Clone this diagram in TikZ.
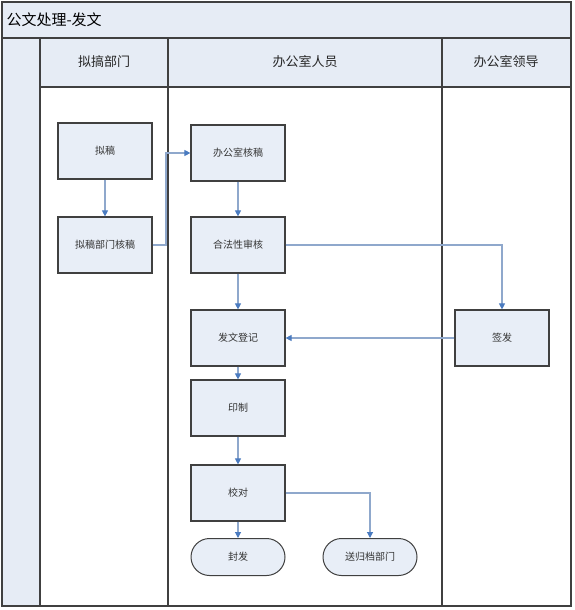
\documentclass[tikz,border=0pt]{standalone}
\usepackage{fontspec}
\setmainfont{Noto Sans CJK SC}
\usetikzlibrary{arrows.meta,shapes.misc}
\definecolor{boxfill}{HTML}{E8EEF7}
\definecolor{hdrfill}{HTML}{E6ECF5}
\definecolor{edgeblue}{HTML}{8FA8CC}
\definecolor{tipblue}{HTML}{4A7BC0}
\definecolor{bord}{HTML}{404040}
\tikzset{
  x=1pt,y=-1pt,
  proc/.style={draw=bord,line width=1.2pt,fill=boxfill,minimum width=94pt,minimum height=56pt,font=\fontsize{10}{12}\selectfont,text=black!80,inner sep=0pt},
  term/.style={draw=bord,line width=1pt,fill=boxfill,rounded rectangle,minimum width=94pt,minimum height=37pt,font=\fontsize{10}{12}\selectfont,text=black!80,inner sep=0pt},
  flow/.style={draw=edgeblue,line width=1.1pt,-{Triangle[length=6pt,width=6pt,color=tipblue]}},
  lane/.style={draw=bord,line width=1.3pt},
  hdr/.style={font=\fontsize{13}{15}\selectfont,text=black!85}
}
\begin{document}
\begin{tikzpicture}
\useasboundingbox (0,0) rectangle (574,610);
\fill[white] (0,0) rectangle (574,610);
% title and header
\fill[hdrfill] (2,2) rectangle (571,87);
\fill[hdrfill] (2,2) rectangle (40,606);
\draw[lane] (2,2) rectangle (571,606);
\draw[lane] (2,38) -- (571,38);
\draw[lane] (40,87) -- (571,87);
\draw[lane] (40,38) -- (40,606);
\draw[lane] (168,38) -- (168,606);
\draw[lane] (442,38) -- (442,606);
\node[anchor=west,font=\fontsize{15}{17}\selectfont] (title) at (3,20) {公文处理-发文};
\node[hdr] (h1) at (104,62) {拟搞部门};
\node[hdr] (h2) at (305,62) {办公室人员};
\node[hdr] (h3) at (506,62) {办公室领导};
% nodes
\node[proc] (n1) at (105,151) {拟稿};
\node[proc] (n2) at (105,245) {拟稿部门核稿};
\node[proc] (n3) at (238,153) {办公室核稿};
\node[proc] (n4) at (238,245) {合法性审核};
\node[proc] (n5) at (238,338) {发文登记};
\node[proc] (n6) at (238,408) {印制};
\node[proc] (n7) at (238,493) {校对};
\node[term] (n8) at (238,557) {封发};
\node[term] (n9) at (370,557) {送归档部门};
\node[proc] (n10) at (502,338) {签发};
% connectors
\draw[flow] (n1) -- (n2);
\draw[flow] (n2.east) -- (166,245) -- (166,153) -- (n3.west);
\draw[flow] (n3) -- (n4);
\draw[flow] (n4) -- (n5);
\draw[flow] (n4.east) -| (n10.north);
\draw[flow] (n10.west) -- (n5.east);
\draw[flow] (n5) -- (n6);
\draw[flow] (n6) -- (n7);
\draw[flow] (n7) -- (n8);
\draw[flow] (n7.east) -| (n9.north);
\end{tikzpicture}
\end{document}
